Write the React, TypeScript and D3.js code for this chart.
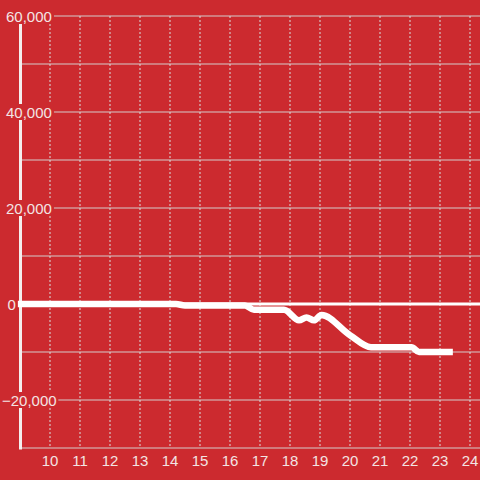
import React from "react";
import * as d3 from "d3";

const xTicks = [10, 11, 12, 13, 14, 15, 16, 17, 18, 19, 20, 21, 22, 23, 24];
const yGrid = [-30000, -20000, -10000, 0, 10000, 20000, 30000, 40000, 50000, 60000];
const yLabels = [60000, 40000, 20000, 0, -20000];
const seriesX = [9, 14.2, 14.5, 16.5, 16.8, 17.8, 18.3, 18.55, 18.8, 19.05, 20, 20.7, 22.05, 22.3, 23.32];
const seriesY = [0, 0, -300, -300, -1200, -1200, -3400, -2800, -3400, -2300, -6500, -9000, -9000, -10000, -10000];

const W = 480, H = 480;
const BG = "#cc2a2f";
const GRID = "#d4cccc";
const VGRID = "#d8e0e0";
const TXT = "#f3e4e4";
const FONT = "'Liberation Sans', Arial, sans-serif";

export default function App() {
  const x = d3.scaleLinear().domain([9, 24]).range([20, 470]);
  const y = d3.scaleLinear().domain([-30000, 60000]).range([448, 16]);
  const data = seriesX.map((v, i) => [v, seriesY[i]] as [number, number]);
  const line = d3
    .line<[number, number]>()
    .x((d) => x(d[0]))
    .y((d) => y(d[1]))
    .curve(d3.curveMonotoneX);
  const fmt = d3.format(",");
  const labelW = (s: string) => {
    let w = 0;
    for (const c of s) w += c === "," ? 4.2 : c === "-" ? 5 : 8.35;
    return w;
  };
  return (
    <svg width={W} height={H} style={{ position: "fixed", left: 0, top: 0 }}>
      <rect x={0} y={0} width={W} height={H} fill={BG} />
      {yGrid.map((v) => (
        <line key={"g" + v} x1={22} x2={W} y1={y(v)} y2={y(v)} stroke={GRID} strokeWidth={1} />
      ))}
      {xTicks.map((v) => (
        <line
          key={"v" + v}
          x1={x(v)}
          x2={x(v)}
          y1={y(60000)}
          y2={y(-30000)}
          stroke={VGRID}
          strokeWidth={1}
          strokeDasharray="2,2"
        />
      ))}
      <line x1={20.5} x2={20.5} y1={y(60000)} y2={y(-30000) + 1.5} stroke="#f4eeee" strokeWidth={3} />
      <line x1={20} x2={W} y1={y(0)} y2={y(0)} stroke="#fff" strokeWidth={3} />
      <path d={line(data) || ""} fill="none" stroke="#fff" strokeWidth={6.5} strokeLinecap="square" strokeLinejoin="round" />
      {yLabels.map((v) => {
        const s = fmt(v);
        const neg = v < 0;
        const tx = v === 0 ? 7.5 : neg ? 2 : 6;
        const w = labelW(s);
        return (
          <g key={"l" + v}>
            <rect x={0} y={y(v) - 8} width={tx + w + 2} height={16} fill={BG} />
            <text x={tx} y={y(v) + 6} fontFamily={FONT} fontSize={15} fill={TXT}>
              {s}
            </text>
          </g>
        );
      })}
      {xTicks.map((v) => (
        <text key={"t" + v} x={x(v)} y={466} textAnchor="middle" fontFamily={FONT} fontSize={15} fill={TXT}>
          {v}
        </text>
      ))}
    </svg>
  );
}
